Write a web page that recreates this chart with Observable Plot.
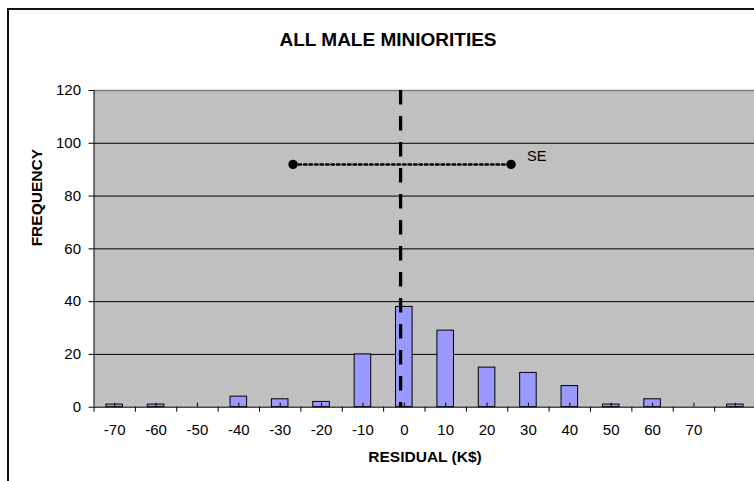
<!DOCTYPE html>
<html>
<head>
<meta charset="utf-8">
<script src="https://cdn.jsdelivr.net/npm/d3@7"></script>
<script src="https://cdn.jsdelivr.net/npm/@observablehq/plot@0.6"></script>
<style>
  html, body { margin: 0; padding: 0; background: #fff; }
  #wrap { position: relative; width: 754px; height: 481px; overflow: hidden; background: #fff; font-family: "Liberation Sans", Arial, sans-serif; }
  #frame { position: absolute; left: 7px; top: 8px; width: 800px; height: 600px; border: 2px solid #111; box-sizing: border-box; }
  #title { position: absolute; left: 8px; width: 760px; top: 29px; text-align: center; font-weight: bold; font-size: 19px; color: #000; }
  #chart { position: absolute; left: 0; top: 0; }
</style>
</head>
<body>
<div id="wrap">
  <div id="frame"></div>
  <div id="chart"></div>
  <div id="title"></div>
</div>
<script>
// ---- data ----
const titleText = "ALL MALE MINIORITIES";
const xTitle = "RESIDUAL (K$)";
const yTitle = "FREQUENCY";
const binCenters = [-70, -60, -50, -40, -30, -20, -10, 0, 10, 20, 30, 40, 50, 60, 70, 80];
const binLabels  = ["-70", "-60", "-50", "-40", "-30", "-20", "-10", "0", "10", "20", "30", "40", "50", "60", "70", ""];
const counts     = [1, 1, 0, 4, 3, 2, 20, 38, 29, 15, 13, 8, 1, 3, 0, 1];
const yTicks = [0, 20, 40, 60, 80, 100, 120];
const meanX = -0.9;          // dashed vertical line
const seX = [-26.9, 25.8];   // SE endpoints
const seY = 92;
const seLabel = "SE";

// ---- derived ----
const binWidth = 10;
const barHalf = 2;
const bins = binCenters.map((c, i) => ({x: c, label: binLabels[i], count: counts[i]}));
const boundaries = binCenters.map(c => c - binWidth / 2).concat([binCenters[binCenters.length - 1] + binWidth / 2]);
const labelMap = new Map(bins.map(b => [b.x, b.label]));
const sePts = seX.map(x => ({x, y: seY}));

document.getElementById("title").textContent = titleText;

const chart = Plot.plot({
  width: 754,
  height: 481,
  marginLeft: 93.5,
  marginRight: -1.5,
  marginTop: 90,
  marginBottom: 74.3,
  style: {fontFamily: "'Liberation Sans', Arial, sans-serif", fontSize: "15px", background: "transparent", overflow: "hidden", color: "#000"},
  x: {domain: [boundaries[0], boundaries[boundaries.length - 1]]},
  y: {domain: [yTicks[0], yTicks[yTicks.length - 1]]},
  marks: [
    Plot.frame({fill: "#c0c0c0"}),
    Plot.gridY(yTicks.slice(1, -1), {stroke: "#000", strokeOpacity: 1}),
    Plot.ruleY([yTicks[yTicks.length - 1]], {stroke: "#808080", strokeWidth: 1.5}),
    Plot.rectY(bins.filter(d => d.count > 0), {x1: d => d.x - barHalf, x2: d => d.x + barHalf, y: "count", fill: "#9999ff", stroke: "#000", strokeWidth: 1}),
    Plot.ruleX(binCenters, {y1: 0, y2: 1.5, stroke: "#000"}),
    Plot.ruleY([0], {stroke: "#000"}),
    Plot.ruleX([boundaries[0]], {stroke: "#000"}),
    Plot.axisY({ticks: yTicks, tickSize: 5, tickPadding: 8, label: null, tickFormat: d => String(d)}),
    Plot.axisX({ticks: boundaries, tickSize: 5, tickFormat: () => "", label: null}),
    Plot.axisX({ticks: binCenters.slice(0, -1), tickSize: 0, tickPadding: 17, label: null, tickFormat: d => labelMap.get(d)}),
    Plot.text([yTitle], {frameAnchor: "left", dx: -56.8, dy: -2.5, rotate: -90, fontWeight: "bold", fontSize: 15.5}),
    Plot.text([xTitle], {frameAnchor: "bottom", dy: 55, fontWeight: "bold", fontSize: 15.5}),
    Plot.ruleX([meanX], {y1: yTicks[yTicks.length - 1], y2: 0, stroke: "#000", strokeWidth: 3.3, strokeDasharray: "14.5,11.5"}),
    Plot.line(sePts, {x: "x", y: "y", stroke: "#000", strokeWidth: 2.5, strokeDasharray: "2.5,3"}),
    Plot.dot(sePts, {x: "x", y: "y", r: 4.7, fill: "#000", stroke: "none"}),
    Plot.text([seLabel], {x: seX[1], y: seY, dx: 16, dy: -8, textAnchor: "start", fontSize: 14.5})
  ]
});
document.getElementById("chart").appendChild(chart);
</script>
</body>
</html>
